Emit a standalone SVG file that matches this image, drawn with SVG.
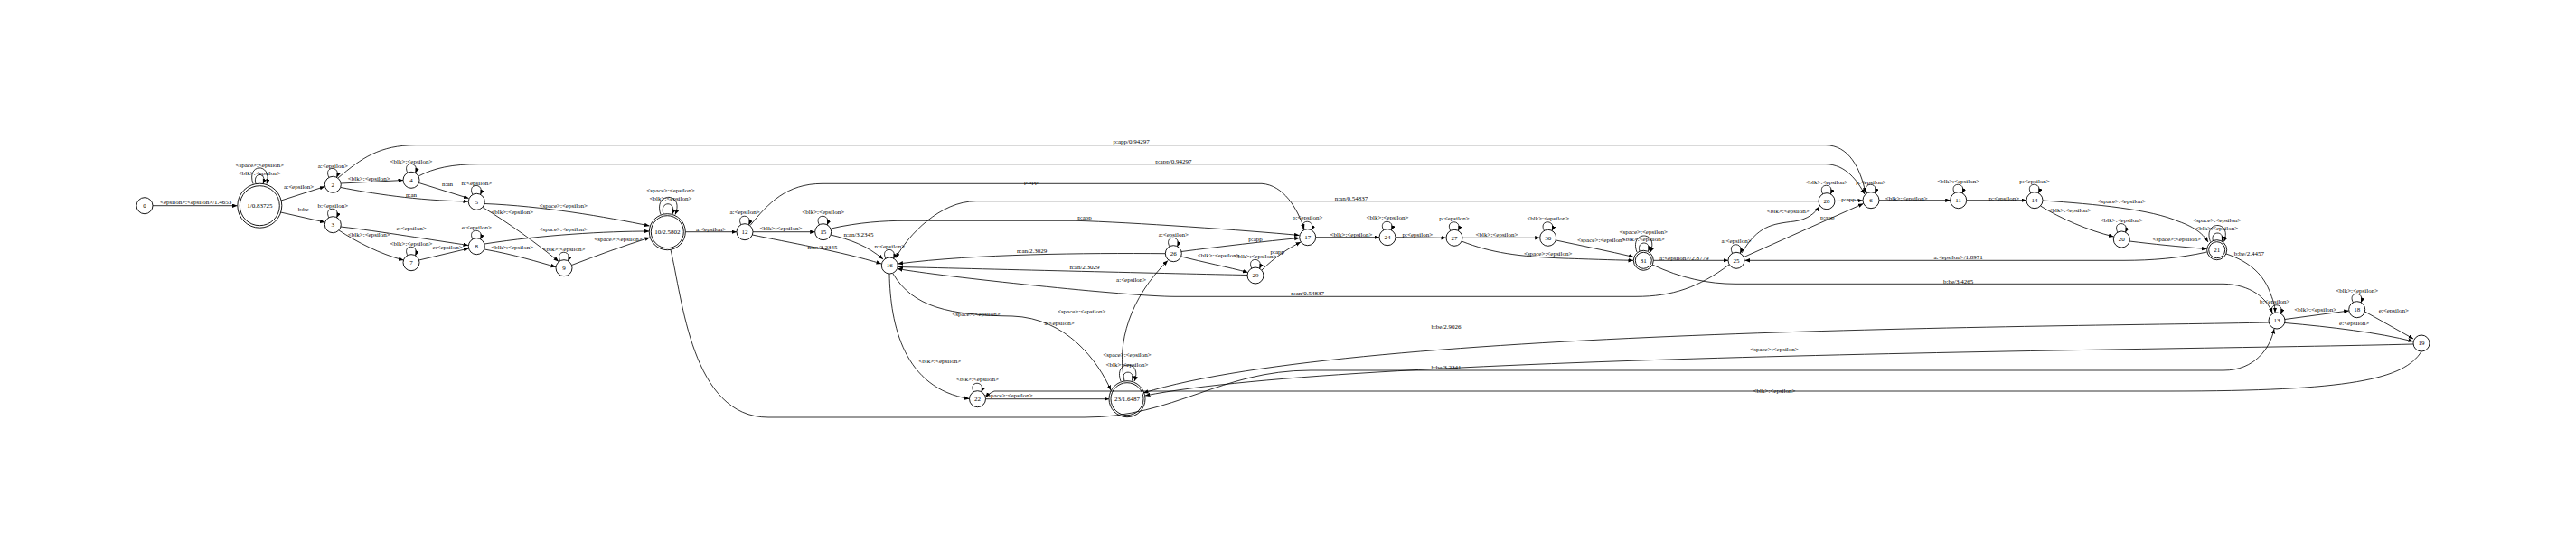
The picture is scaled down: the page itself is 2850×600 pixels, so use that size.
<svg xmlns="http://www.w3.org/2000/svg" width="2850" height="600" viewBox="0 0 2850 600">
<style>
text{font-family:"Liberation Serif","Times New Roman",serif;font-size:7px;text-anchor:middle;fill:#000}
.n circle{fill:none;stroke:#000;stroke-width:0.9}
.e path{fill:none;stroke:#000;stroke-width:0.8;marker-end:url(#ah)}
</style>
<defs>
<marker id="ah" markerUnits="userSpaceOnUse" markerWidth="6" markerHeight="5" refX="5.5" refY="2.2" orient="auto">
<path d="M0,0 L5.5,2.2 L0,4.4 z" fill="#000"/>
</marker>
</defs>
<rect width="2850" height="600" fill="#fff"/>
<g id="edges" class="e">
<path d="M169,227.7 L262.5,227.7"/>
<path d="M280,203.5 C272,180 302,180 295,203.5"/>
<path d="M283,203.5 C279,190 296,190 291,203.5"/>
<path d="M311,222 L359.3,206.5"/>
<path d="M310.5,235 L359.5,246"/>
<path d="M364,196.5 C357,183 378,183 372.5,196.5"/>
<path d="M377.5,203 L446,199.5"/>
<path d="M377,207.5 C410,214 460,222 518,223"/>
<path d="M374,197 C400,175 420,160.7 460,160.7 L2020,160.7 C2045,161 2058,185 2064,213.5"/>
<path d="M451,191.5 C444,178 465,178 459.5,191.5"/>
<path d="M463.5,202.5 L518.5,219.5"/>
<path d="M463,195 C480,186 500,181.7 530,181.7 L2020,181.7 C2042,182 2055,200 2063,215"/>
<path d="M523,215.5 C516,202 537,202 531.5,215.5"/>
<path d="M536,225.5 C600,228 670,240 718.5,250"/>
<path d="M534,229.5 C560,245 595,270 618,289.5"/>
<path d="M364,241 C357,228 378,228 372.5,241"/>
<path d="M377,251 C420,256 480,266 518,271.5"/>
<path d="M375,255 C395,268 420,281 446.5,288"/>
<path d="M451,283 C444,270 465,270 459.5,283"/>
<path d="M463.5,288 L518.5,275"/>
<path d="M523,265 C516,252 537,252 531.5,265"/>
<path d="M536,270 C600,260 670,256 718.3,256"/>
<path d="M536,276 C570,282 595,290 615,295.5"/>
<path d="M620,289 C613,276 634,276 628.5,289"/>
<path d="M632.5,293.5 C660,283 690,272 719,263"/>
<path d="M731,237.5 C722,212 758,212 747,237.5"/>
<path d="M734,237 C729,222 749,222 744,237"/>
<path d="M758.3,256.7 L815,256.7"/>
<path d="M820,249 C813,236 834,236 828.5,249"/>
<path d="M833,256.7 L901.7,256.7"/>
<path d="M832.5,260 C870,268 930,278 975,292"/>
<path d="M830,249.5 C850,225 870,203.3 910,203.3 L1396,203.3 C1420,205 1435,230 1443,253.5"/>
<path d="M906.5,249 C899.5,236 920.5,236 915,249"/>
<path d="M919,260 C940,265 960,272 977,287"/>
<path d="M919.5,253 C950,246 980,244.3 1000,244.3 L1190,244.3 C1250,246 1380,255 1437.5,260.5"/>
<path d="M980,286.5 C973,273 994,273 988.5,286.5"/>
<path d="M1289.3,280.7 C1200,280 1080,281 993.5,292"/>
<path d="M1380,304.5 C1300,303 1100,298 993.5,295.5"/>
<path d="M1913,293 C1880,318 1850,328.3 1810,328.3 L1300,328.3 C1250,328.3 1040,306 993,297.5"/>
<path d="M2012,222.7 L1080,222.7 C1040,222.7 1005,260 991,285.5"/>
<path d="M1442.5,255 C1435.5,242 1456.5,242 1451,255"/>
<path d="M1455.7,262.7 L1526,262.7"/>
<path d="M1307,278.5 C1350,273 1400,267 1437.7,263.5"/>
<path d="M1396,299 C1410,285 1425,275 1439,268"/>
<path d="M1307,284 C1330,290 1360,296 1380.5,301.5"/>
<path d="M1294,273 C1287,260 1308,260 1302.5,273"/>
<path d="M1385,297.5 C1378,284 1399,284 1393.5,297.5"/>
<path d="M1530.8,255 C1523.8,242 1544.8,242 1539.3,255"/>
<path d="M1544,262.7 L1600,263.3"/>
<path d="M1604.8,255.5 C1597.8,242.5 1618.8,242.5 1613.3,255.5"/>
<path d="M1618,263.3 L1703.7,263.3"/>
<path d="M1617,267 C1650,280 1680,284 1730,286 C1760,287 1790,288 1807,288.3"/>
<path d="M1708.5,255.5 C1701.5,242.5 1722.5,242.5 1717,255.5"/>
<path d="M1721.5,266 C1750,272 1780,278 1807.5,284.5"/>
<path d="M1811,279 C1802,255 1836,255 1826,279"/>
<path d="M1814,278 C1810,266 1828,266 1823.5,278"/>
<path d="M1829.3,288.3 L1912,288.3"/>
<path d="M1828,293 C1860,308 1890,314.3 1920,314.3 L2460,314.3 C2490,315 2508,330 2514,346.5"/>
<path d="M1916.8,280.5 C1909.8,267.5 1930.8,267.5 1925.3,280.5"/>
<path d="M1927,280 C1945,250 1960,248 1985,245 C2000,243 2008,236 2013,228.5"/>
<path d="M1929.5,284.5 L2061.5,225.5"/>
<path d="M2016.8,215 C2009.8,202 2030.8,202 2025.3,215"/>
<path d="M2030,222.5 L2061,222"/>
<path d="M2065.8,214 C2058.8,201 2079.8,201 2074.3,214"/>
<path d="M2079,221.7 L2157.7,221.7"/>
<path d="M2162.5,214 C2155.5,201 2176.5,201 2171,214"/>
<path d="M2175.7,221.7 L2242,221.7"/>
<path d="M2246.8,214 C2239.8,201 2260.8,201 2255.3,214"/>
<path d="M2260,222 C2320,226 2380,232 2410,245 C2430,252 2438,260 2443,268"/>
<path d="M2257.5,228 C2280,242 2310,255 2338.5,262"/>
<path d="M2343,257.3 C2336,244.3 2357,244.3 2351.5,257.3"/>
<path d="M2356,267 C2380,270 2410,273 2441.5,275.5"/>
<path d="M2445.5,267.5 C2436.5,243.5 2470.5,243.5 2460.5,267.5"/>
<path d="M2448.5,267 C2444.5,255 2462.5,255 2458,267"/>
<path d="M2441.7,279 C2410,286 2380,288.3 2350,288.3 L1930.5,288.3"/>
<path d="M2463,281 C2490,290 2505,305 2512,325 C2516,335 2517,340 2517,346"/>
<path d="M2514.8,347.5 C2507.8,334.5 2528.8,334.5 2523.3,347.5"/>
<path d="M2528,353.5 L2598.7,344"/>
<path d="M2603.5,335 C2596.5,322 2617.5,322 2612,335"/>
<path d="M2616.5,345 L2670,375"/>
<path d="M2528,357.5 C2580,362 2630,368 2670,378"/>
<path d="M2670,381 C2400,388 1500,392 1267,438"/>
<path d="M2679,389 C2660,420 2600,433 2400,433 L1100,433 C1095,435 1092,438 1090.5,440"/>
<path d="M2510,357 C2300,362 1500,362 1265,435"/>
<path d="M742,276.5 C755,330 765,462 850,462 L1200,462 C1300,462 1350,410 1450,410 L2460,410 C2495,410 2512,385 2516,364"/>
<path d="M984,303 C985,360 1000,430 1072.5,441.5"/>
<path d="M988,303 C1010,340 1050,349 1120,350 C1180,352 1215,400 1229,432"/>
<path d="M1090.5,441.7 L1227,441.7"/>
<path d="M1077.3,434 C1070.3,421 1091.3,421 1085.8,434"/>
<path d="M1240,422 C1231,398 1265,398 1255,422"/>
<path d="M1243,421.5 C1239,409 1257,409 1252.5,421.5"/>
<path d="M1244,421.7 C1235,380 1250,330 1292,288.5"/>
</g>
<g id="node0" class="n"><circle cx="160" cy="227.7" r="9" stroke-width="2"/><text x="160" y="230">0</text></g>
<g id="node1" class="n"><circle cx="287.3" cy="227.7" r="24.5"/><circle cx="287.3" cy="227.7" r="22"/><text x="287.3" y="230">1/0.83725</text></g>
<g id="node2" class="n"><circle cx="368.3" cy="204.3" r="9"/><text x="368.3" y="206.6">2</text></g>
<g id="node3" class="n"><circle cx="368.3" cy="248.7" r="9"/><text x="368.3" y="251">3</text></g>
<g id="node4" class="n"><circle cx="455" cy="199.3" r="9"/><text x="455" y="201.6">4</text></g>
<g id="node5" class="n"><circle cx="527.3" cy="223.3" r="9"/><text x="527.3" y="225.6">5</text></g>
<g id="node7" class="n"><circle cx="455" cy="290.7" r="9"/><text x="455" y="293">7</text></g>
<g id="node8" class="n"><circle cx="527.3" cy="272.7" r="9"/><text x="527.3" y="275">8</text></g>
<g id="node9" class="n"><circle cx="624" cy="296.7" r="9"/><text x="624" y="299">9</text></g>
<g id="node10" class="n"><circle cx="738.3" cy="256.7" r="20"/><circle cx="738.3" cy="256.7" r="18"/><text x="738.3" y="259">10/2.5802</text></g>
<g id="node12" class="n"><circle cx="824" cy="256.7" r="9"/><text x="824" y="259">12</text></g>
<g id="node15" class="n"><circle cx="910.7" cy="256.7" r="9"/><text x="910.7" y="259">15</text></g>
<g id="node16" class="n"><circle cx="984.3" cy="294" r="9"/><text x="984.3" y="296.3">16</text></g>
<g id="node17" class="n"><circle cx="1446.7" cy="262.7" r="9"/><text x="1446.7" y="265">17</text></g>
<g id="node22" class="n"><circle cx="1081.5" cy="441.7" r="9"/><text x="1081.5" y="444">22</text></g>
<g id="node23" class="n"><circle cx="1247" cy="441.7" r="20"/><circle cx="1247" cy="441.7" r="18"/><text x="1247" y="444">23/1.6487</text></g>
<g id="node24" class="n"><circle cx="1535" cy="262.7" r="9"/><text x="1535" y="265">24</text></g>
<g id="node26" class="n"><circle cx="1298.3" cy="280.7" r="9"/><text x="1298.3" y="283">26</text></g>
<g id="node29" class="n"><circle cx="1389" cy="305" r="9"/><text x="1389" y="307.3">29</text></g>
<g id="node27" class="n"><circle cx="1609" cy="263.3" r="9"/><text x="1609" y="265.6">27</text></g>
<g id="node30" class="n"><circle cx="1712.7" cy="263.3" r="9"/><text x="1712.7" y="265.6">30</text></g>
<g id="node31" class="n"><circle cx="1818.3" cy="288.3" r="11"/><circle cx="1818.3" cy="288.3" r="9"/><text x="1818.3" y="290.6">31</text></g>
<g id="node25" class="n"><circle cx="1921" cy="288.3" r="9"/><text x="1921" y="290.6">25</text></g>
<g id="node28" class="n"><circle cx="2021" cy="222.7" r="9"/><text x="2021" y="225">28</text></g>
<g id="node6" class="n"><circle cx="2070" cy="221.7" r="9"/><text x="2070" y="224">6</text></g>
<g id="node11" class="n"><circle cx="2166.7" cy="221.7" r="9"/><text x="2166.7" y="224">11</text></g>
<g id="node14" class="n"><circle cx="2251" cy="221.7" r="9"/><text x="2251" y="224">14</text></g>
<g id="node20" class="n"><circle cx="2347.3" cy="265" r="9"/><text x="2347.3" y="267.3">20</text></g>
<g id="node21" class="n"><circle cx="2452.7" cy="276.7" r="11"/><circle cx="2452.7" cy="276.7" r="9"/><text x="2452.7" y="279">21</text></g>
<g id="node13" class="n"><circle cx="2519" cy="355" r="9"/><text x="2519" y="357.3">13</text></g>
<g id="node18" class="n"><circle cx="2607.7" cy="342.7" r="9"/><text x="2607.7" y="345">18</text></g>
<g id="node19" class="n"><circle cx="2679" cy="380" r="9"/><text x="2679" y="382.3">19</text></g>
<g id="labels">
<text x="216.7" y="226.3">&lt;epsilon&gt;:&lt;epsilon&gt;/1.4653</text>
<text x="287.3" y="184.6">&lt;space&gt;:&lt;epsilon&gt;</text>
<text x="287.3" y="193.6">&lt;blk&gt;:&lt;epsilon&gt;</text>
<text x="330.7" y="209">a:&lt;epsilon&gt;</text>
<text x="335.7" y="234.3">b:be</text>
<text x="368.3" y="185.6">a:&lt;epsilon&gt;</text>
<text x="368.3" y="230">b:&lt;epsilon&gt;</text>
<text x="408.3" y="200">&lt;blk&gt;:&lt;epsilon&gt;</text>
<text x="455" y="218.3">n:an</text>
<text x="455" y="180.6">&lt;blk&gt;:&lt;epsilon&gt;</text>
<text x="495" y="205.6">n:an</text>
<text x="527.3" y="205">n:&lt;epsilon&gt;</text>
<text x="455" y="255">e:&lt;epsilon&gt;</text>
<text x="408.3" y="261.6">&lt;blk&gt;:&lt;epsilon&gt;</text>
<text x="455" y="271.6">&lt;blk&gt;:&lt;epsilon&gt;</text>
<text x="495" y="275.6">e:&lt;epsilon&gt;</text>
<text x="527.3" y="254">e:&lt;epsilon&gt;</text>
<text x="566.7" y="236.6">&lt;blk&gt;:&lt;epsilon&gt;</text>
<text x="566.7" y="275.6">&lt;blk&gt;:&lt;epsilon&gt;</text>
<text x="623.3" y="230">&lt;space&gt;:&lt;epsilon&gt;</text>
<text x="623.3" y="255.6">&lt;space&gt;:&lt;epsilon&gt;</text>
<text x="624" y="278.3">&lt;blk&gt;:&lt;epsilon&gt;</text>
<text x="684" y="267.3">&lt;space&gt;:&lt;epsilon&gt;</text>
<text x="742" y="213">&lt;space&gt;:&lt;epsilon&gt;</text>
<text x="742" y="221.6">&lt;blk&gt;:&lt;epsilon&gt;</text>
<text x="786.7" y="255.6">a:&lt;epsilon&gt;</text>
<text x="824" y="236.6">a:&lt;epsilon&gt;</text>
<text x="864" y="255">&lt;blk&gt;:&lt;epsilon&gt;</text>
<text x="910.7" y="236.6">&lt;blk&gt;:&lt;epsilon&gt;</text>
<text x="950" y="261.6">n:an/3.2345</text>
<text x="910" y="275.6">n:an/3.2345</text>
<text x="984.3" y="275">n:&lt;epsilon&gt;</text>
<text x="1251.7" y="159">p:app/0.94297</text>
<text x="1298.3" y="180.6">p:app/0.94297</text>
<text x="1140.7" y="204">p:app</text>
<text x="1200" y="243">p:app</text>
<text x="1495" y="221.6">n:an/0.54837</text>
<text x="1446.7" y="327.3">n:an/0.54837</text>
<text x="1141.7" y="280">n:an/2.3029</text>
<text x="1200" y="298">n:an/2.3029</text>
<text x="1298.3" y="261.6">a:&lt;epsilon&gt;</text>
<text x="1389" y="266.6">p:app</text>
<text x="1348.3" y="284.6">&lt;blk&gt;:&lt;epsilon&gt;</text>
<text x="1389" y="285.6">&lt;blk&gt;:&lt;epsilon&gt;</text>
<text x="1413.3" y="281.3">p:app</text>
<text x="1251.7" y="311.6">a:&lt;epsilon&gt;</text>
<text x="1446.7" y="243">p:&lt;epsilon&gt;</text>
<text x="1495" y="261.6">&lt;blk&gt;:&lt;epsilon&gt;</text>
<text x="1535" y="243">&lt;blk&gt;:&lt;epsilon&gt;</text>
<text x="1568.3" y="262.3">p:&lt;epsilon&gt;</text>
<text x="1609" y="244.3">p:&lt;epsilon&gt;</text>
<text x="1656" y="262.3">&lt;blk&gt;:&lt;epsilon&gt;</text>
<text x="1712.7" y="244">&lt;blk&gt;:&lt;epsilon&gt;</text>
<text x="1712.7" y="283.3">&lt;space&gt;:&lt;epsilon&gt;</text>
<text x="1771.7" y="268.3">&lt;space&gt;:&lt;epsilon&gt;</text>
<text x="1818.3" y="259">&lt;space&gt;:&lt;epsilon&gt;</text>
<text x="1818.3" y="267.3">&lt;blk&gt;:&lt;epsilon&gt;</text>
<text x="1863.3" y="288">a:&lt;epsilon&gt;/2.8779</text>
<text x="1921" y="269">a:&lt;epsilon&gt;</text>
<text x="1978.3" y="235.6">&lt;blk&gt;:&lt;epsilon&gt;</text>
<text x="2021.7" y="243">p:app</text>
<text x="2021" y="204">&lt;blk&gt;:&lt;epsilon&gt;</text>
<text x="2045" y="223">p:app</text>
<text x="2070" y="204">p:&lt;epsilon&gt;</text>
<text x="2109.3" y="221.6">&lt;blk&gt;:&lt;epsilon&gt;</text>
<text x="2166.7" y="203">&lt;blk&gt;:&lt;epsilon&gt;</text>
<text x="2217.3" y="221.6">p:&lt;epsilon&gt;</text>
<text x="2251" y="203">p:&lt;epsilon&gt;</text>
<text x="2347.3" y="225">&lt;space&gt;:&lt;epsilon&gt;</text>
<text x="2290" y="235">&lt;blk&gt;:&lt;epsilon&gt;</text>
<text x="2347.3" y="246.3">&lt;blk&gt;:&lt;epsilon&gt;</text>
<text x="2408.3" y="267.3">&lt;space&gt;:&lt;epsilon&gt;</text>
<text x="2452.7" y="246.3">&lt;space&gt;:&lt;epsilon&gt;</text>
<text x="2452.7" y="255">&lt;blk&gt;:&lt;epsilon&gt;</text>
<text x="2166.7" y="287.3">a:&lt;epsilon&gt;/1.8971</text>
<text x="2166.7" y="314">b:be/3.4265</text>
<text x="2488.3" y="283">b:be/2.4457</text>
<text x="2516.7" y="335.6">b:&lt;epsilon&gt;</text>
<text x="2561.7" y="345">&lt;blk&gt;:&lt;epsilon&gt;</text>
<text x="2607.7" y="324">&lt;blk&gt;:&lt;epsilon&gt;</text>
<text x="2648.3" y="345.6">e:&lt;epsilon&gt;</text>
<text x="2604.7" y="360.3">e:&lt;epsilon&gt;</text>
<text x="1600" y="364">b:be/2.9026</text>
<text x="1963" y="389.3">&lt;space&gt;:&lt;epsilon&gt;</text>
<text x="1600" y="409.3">b:be/3.2341</text>
<text x="1963" y="435">&lt;blk&gt;:&lt;epsilon&gt;</text>
<text x="1039.7" y="402.3">&lt;blk&gt;:&lt;epsilon&gt;</text>
<text x="1080" y="349.6">&lt;space&gt;:&lt;epsilon&gt;</text>
<text x="1196.7" y="347.3">&lt;space&gt;:&lt;epsilon&gt;</text>
<text x="1172" y="360.3">a:&lt;epsilon&gt;</text>
<text x="1081.5" y="422.3">&lt;blk&gt;:&lt;epsilon&gt;</text>
<text x="1116" y="440.3">&lt;space&gt;:&lt;epsilon&gt;</text>
<text x="1247" y="395">&lt;space&gt;:&lt;epsilon&gt;</text>
<text x="1247" y="405.8">&lt;blk&gt;:&lt;epsilon&gt;</text>
</g>
</svg>
